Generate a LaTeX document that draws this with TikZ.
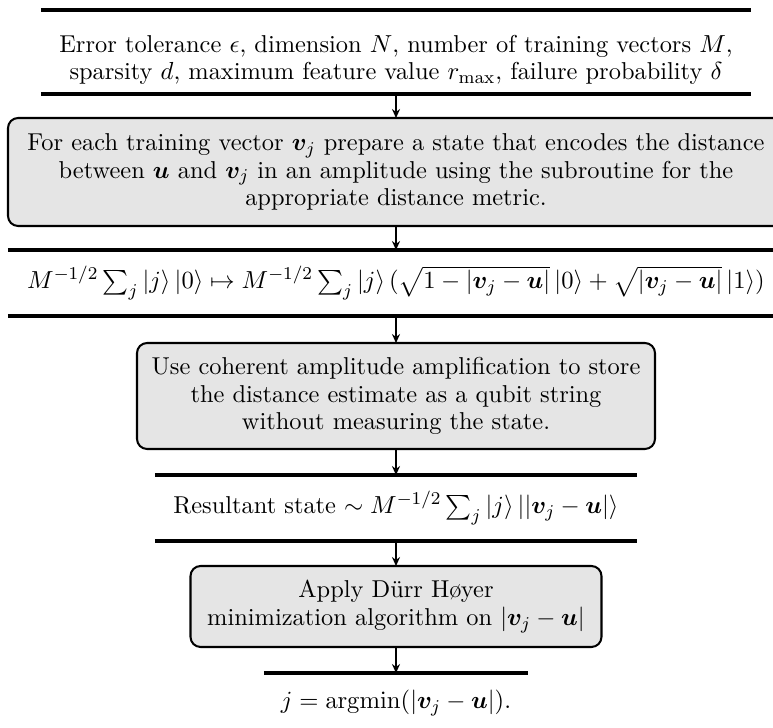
\documentclass[tikz,border=0pt]{standalone}
\usepackage{amsmath}
\usepackage{bm}
\usetikzlibrary{arrows.meta}
\def\pxu{0.4444pt}
\tikzset{
  px/.style={x=\pxu,y=-\pxu},
  databox/.style={rectangle,outer sep=0pt,inner sep=0pt,align=center},
  procbox/.style={rectangle,rounded corners=4.5pt,draw=black,line width=0.9pt,fill=gray!20,outer sep=0pt,inner sep=0pt,align=center},
  dataline/.style={line width=1.5pt},
  arr/.style={-{Stealth[length=4pt,width=3.6pt]},line width=0.5pt}
}
\begin{document}
\begin{tikzpicture}[px,font=\fontsize{10.85}{12.2}\selectfont]
\useasboundingbox (0,0) rectangle (773,728);
\node[databox,minimum width=710*\pxu,minimum height=68*\pxu] (d1) at (396,60)
 {Error tolerance $\epsilon$, dimension $N$, number of training vectors $M$,\\
  sparsity $d$, maximum feature value $r_{\max}$, failure probability $\delta$};
\node[procbox,minimum width=776*\pxu,minimum height=108*\pxu] (p2) at (396,172)
 {For each training vector $\bm{v}_j$ prepare a state that encodes the distance\\
  between $\bm{u}$ and $\bm{v}_j$ in an amplitude using the subroutine for the\\
  appropriate distance metric.};
\node[databox,minimum width=776*\pxu,minimum height=66*\pxu] (d3) at (396,283)
 {$M^{-1/2}\sum_j |j\rangle\,|0\rangle \mapsto M^{-1/2}\sum_j |j\rangle\,(\sqrt{1-|\bm{v}_j-\bm{u}|}\,|0\rangle+\sqrt{|\bm{v}_j-\bm{u}|}\,|1\rangle)$};
\node[procbox,minimum width=518*\pxu,minimum height=106*\pxu] (p4) at (396,396)
 {Use coherent amplitude amplification to store\\
  the distance estimate as a qubit string\\
  without measuring the state.};
\node[databox,minimum width=482*\pxu,minimum height=66*\pxu] (d5) at (396,508)
 {Resultant state $\sim M^{-1/2}\sum_j |j\rangle\,||\bm{v}_j-\bm{u}|\rangle$};
\node[procbox,minimum width=411*\pxu,minimum height=81*\pxu] (p6) at (396,606.5)
 {Apply Dürr Høyer\\
  minimization algorithm on $|\bm{v}_j-\bm{u}|$};
\node[databox,minimum width=264*\pxu,minimum height=60*\pxu] (d7) at (396,703)
 {$j=\mathrm{argmin}(|\bm{v}_j-\bm{u}|)$.};
\draw[dataline] ([yshift=16*\pxu]d1.north west) -- ([yshift=16*\pxu]d1.north east);
\draw[dataline] (d1.south west) -- (d1.south east);
\foreach \n in {d3,d5}{
  \draw[dataline] (\n.north west) -- (\n.north east);
  \draw[dataline] (\n.south west) -- (\n.south east);
}
\draw[dataline] (d7.north west) -- (d7.north east);
\draw[arr] (d1.south) -- (p2.north);
\draw[arr] (p2.south) -- (d3.north);
\draw[arr] (d3.south) -- (p4.north);
\draw[arr] (p4.south) -- (d5.north);
\draw[arr] (d5.south) -- (p6.north);
\draw[arr] (p6.south) -- (d7.north);
\end{tikzpicture}
\end{document}
